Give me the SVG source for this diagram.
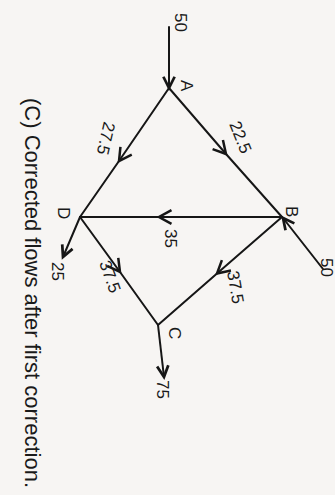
<svg xmlns="http://www.w3.org/2000/svg" width="335" height="495" viewBox="0 0 335 495">
<defs>
<style>
.e{fill:none;stroke:#161616;stroke-width:2;stroke-linecap:round}
.t{font-family:"Liberation Sans",Arial,sans-serif;font-size:17px;fill:#1a1a1a}
.cap{font-family:"Liberation Sans",Arial,sans-serif;font-size:22px;fill:#1a1a1a}
</style>
<marker id="mid" markerUnits="userSpaceOnUse" markerWidth="20" markerHeight="20" viewBox="-12 -8 14 16" refX="0" refY="0" orient="auto">
<path d="M-10,-5.5 L0,0 L-10,5.5" fill="none" stroke="#161616" stroke-width="2"/>
</marker>
<marker id="end" markerUnits="userSpaceOnUse" markerWidth="20" markerHeight="20" viewBox="-12 -8 14 16" refX="0" refY="0" orient="auto">
<path d="M-9,-4.5 L0,0 L-9,4.5" fill="none" stroke="#161616" stroke-width="2.2"/>
</marker>
</defs>
<rect width="335" height="495" fill="#f7f5f3"/>
<g id="connectors">
<path class="e" d="M169,27 L169,88" marker-end="url(#end)"/>
<path class="e" d="M169,88 L119,161 L80,217" marker-mid="url(#mid)"/>
<path class="e" d="M169,88 L226,154 L282,217" marker-mid="url(#mid)"/>
<path class="e" d="M282,217 L159,217 L80,217" marker-mid="url(#mid)"/>
<path class="e" d="M80,217 L120,272 L158,325" marker-mid="url(#mid)"/>
<path class="e" d="M282,217 L217,273.5 L158,325" marker-mid="url(#mid)"/>
<path class="e" d="M80,217 L63,257" marker-end="url(#end)"/>
<path class="e" d="M158,325 L164,377" marker-end="url(#end)"/>
<path class="e" d="M323,269 L283,218" marker-end="url(#end)"/>
</g>
<g id="node-A"><text class="t" transform="translate(181,80) rotate(90)">A</text></g>
<g id="node-B"><text class="t" transform="translate(286,206) rotate(90)">B</text></g>
<g id="node-C"><text class="t" transform="translate(169,327) rotate(90)">C</text></g>
<g id="node-D"><text class="t" transform="translate(58,207) rotate(90)">D</text></g>
<g id="labels">
<text class="t" transform="translate(175,13) rotate(90)">50</text>
<text class="t" transform="translate(321,258) rotate(90)">50</text>
<text class="t" transform="translate(229,124) rotate(68)">22.5</text>
<text class="t" transform="translate(104,121) rotate(103)">27.5</text>
<text class="t" transform="translate(165,229) rotate(90)">35</text>
<text class="t" transform="translate(52,262) rotate(90)">25</text>
<text class="t" transform="translate(99,263) rotate(70)">37.5</text>
<text class="t" transform="translate(227,272) rotate(80)">37.5</text>
<text class="t" transform="translate(157,380) rotate(90)">75</text>
</g>
<text class="cap" transform="translate(25,98) rotate(90)" textLength="390" lengthAdjust="spacingAndGlyphs">(C) Corrected flows after first correction.</text>
</svg>
